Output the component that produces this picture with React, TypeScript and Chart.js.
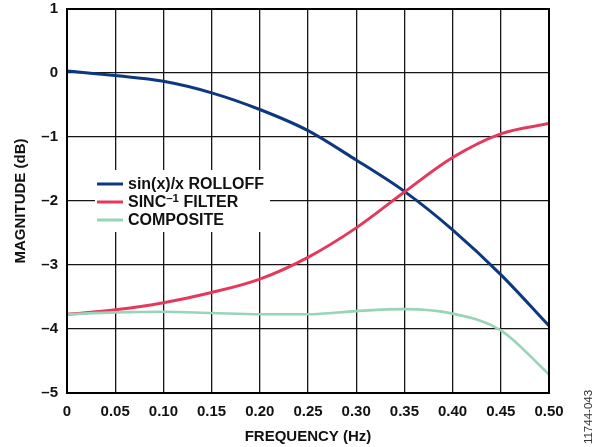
import { useEffect, useRef } from 'react';
import { Chart, registerables } from 'chart.js';

Chart.register(...registerables);

const FREQ = [0, 0.05, 0.1, 0.15, 0.2, 0.25, 0.3, 0.35, 0.4, 0.45, 0.5];
const SINC_ROLLOFF = [0.03, -0.04, -0.13, -0.31, -0.57, -0.9, -1.36, -1.85, -2.45, -3.15, -3.95];
const SINC_INV_FILTER = [-3.77, -3.7, -3.59, -3.43, -3.22, -2.88, -2.42, -1.86, -1.32, -0.95, -0.79];
const COMPOSITE = [-3.77, -3.74, -3.73, -3.75, -3.77, -3.77, -3.72, -3.69, -3.76, -4.02, -4.71];

const X_TICK_LABELS = ['0', '0.05', '0.10', '0.15', '0.20', '0.25', '0.30', '0.35', '0.40', '0.45', '0.50'];
const Y_TICK_LABELS = ['–5', '–4', '–3', '–2', '–1', '0', '1'];
const X_TITLE = 'FREQUENCY (Hz)';
const Y_TITLE = 'MAGNITUDE (dB)';
const SERIES_NAMES = ['sin(x)/x ROLLOFF', 'SINC', 'COMPOSITE'];
const FIG_CODE = '11744-043';

const COLORS = ['#0c3880', '#e5395c', '#98d4b8'];
const FONT = "'Liberation Sans', Arial, Helvetica, sans-serif";

const toPts = (ys: number[]) => FREQ.map((x, i) => ({ x, y: ys[i] }));

const extrasPlugin = {
  id: 'extras',
  afterDatasetsDraw(chart: any) {
    const { ctx, chartArea } = chart;
    ctx.save();
    // legend box
    ctx.fillStyle = '#ffffff';
    ctx.fillRect(95, 170, 175, 62);
    const rows = [184, 202, 220];
    ctx.textBaseline = 'middle';
    ctx.textAlign = 'left';
    rows.forEach((y, i) => {
      ctx.strokeStyle = COLORS[i];
      ctx.lineWidth = 3;
      ctx.beginPath();
      ctx.moveTo(97, y);
      ctx.lineTo(123, y);
      ctx.stroke();
      ctx.fillStyle = '#111';
      ctx.font = `bold 16px ${FONT}`;
      if (i === 1) {
        ctx.fillText(SERIES_NAMES[1], 128, y + 1);
        let x = 128 + ctx.measureText(SERIES_NAMES[1]).width;
        ctx.font = `bold 11.5px ${FONT}`;
        ctx.fillText('–1', x, y - 3);
        x += ctx.measureText('–1').width;
        ctx.font = `bold 16px ${FONT}`;
        ctx.fillText(' FILTER', x, y + 1);
      } else {
        ctx.fillText(SERIES_NAMES[i], 128, y + 1);
      }
    });
    // border
    ctx.strokeStyle = '#000';
    ctx.lineWidth = 2;
    ctx.strokeRect(chartArea.left, chartArea.top, chartArea.right - chartArea.left, chartArea.bottom - chartArea.top);
    // figure code
    ctx.translate(589, 417);
    ctx.rotate(-Math.PI / 2);
    ctx.font = `11.5px ${FONT}`;
    ctx.fillStyle = '#333';
    ctx.textAlign = 'center';
    ctx.textBaseline = 'middle';
    ctx.fillText(FIG_CODE, 0, 0);
    ctx.restore();
  },
};

export default function App() {
  const ref = useRef<HTMLCanvasElement>(null);
  useEffect(() => {
    if (!ref.current) return;
    const mk = (label: string, data: number[], color: string, w: number) => ({
      label,
      data: toPts(data),
      borderColor: color,
      backgroundColor: color,
      borderWidth: w,
      pointRadius: 0,
      cubicInterpolationMode: 'monotone' as const,
      fill: false,
    });
    const chart = new Chart(ref.current, {
      type: 'line',
      data: {
        datasets: [
          mk(SERIES_NAMES[2], COMPOSITE, COLORS[2], 2.6),
          mk('SINC–1 FILTER', SINC_INV_FILTER, COLORS[1], 3),
          mk(SERIES_NAMES[0], SINC_ROLLOFF, COLORS[0], 3),
        ],
      },
      options: {
        animation: false,
        responsive: false,
        layout: { padding: { top: 9, right: 50, left: 0, bottom: 0 } },
        plugins: { legend: { display: false }, tooltip: { enabled: false } },
        scales: {
          x: {
            type: 'linear',
            min: 0,
            max: 0.5,
            afterFit: (s: any) => { s.height = 54; s.paddingLeft = 0; s.paddingRight = 0; },
            ticks: {
              stepSize: 0.05,
              padding: 10,
              color: '#111',
              font: { family: FONT, size: 15, weight: 'bold' },
              maxRotation: 0,
              autoSkip: false,
              callback: (_v: any, i: number) => X_TICK_LABELS[i],
            },
            grid: { color: '#151515', lineWidth: 1.3, drawTicks: false },
            border: { display: false },
            title: {
              display: true,
              text: X_TITLE,
              color: '#111',
              font: { family: FONT, size: 15, weight: 'bold' },
              padding: { top: 0, bottom: 1 },
            },
          },
          y: {
            type: 'linear',
            min: -5,
            max: 1,
            afterFit: (s: any) => { s.width = 67; s.paddingTop = 0; s.paddingBottom = 0; },
            ticks: {
              stepSize: 1,
              padding: 9,
              color: '#111',
              font: { family: FONT, size: 15, weight: 'bold' },
              callback: (_v: any, i: number) => Y_TICK_LABELS[i],
            },
            grid: { color: '#151515', lineWidth: 1.3, drawTicks: false },
            border: { display: false },
            title: {
              display: true,
              text: Y_TITLE,
              color: '#111',
              font: { family: FONT, size: 15, weight: 'bold' },
              padding: { top: 12, bottom: 0 },
            },
          },
        },
      },
      plugins: [extrasPlugin],
    });
    return () => chart.destroy();
  }, []);
  return (
    <div style={{ position: 'fixed', left: 0, top: 0, width: 599, height: 447, background: '#fff' }}>
      <canvas ref={ref} width={599} height={447} />
    </div>
  );
}
